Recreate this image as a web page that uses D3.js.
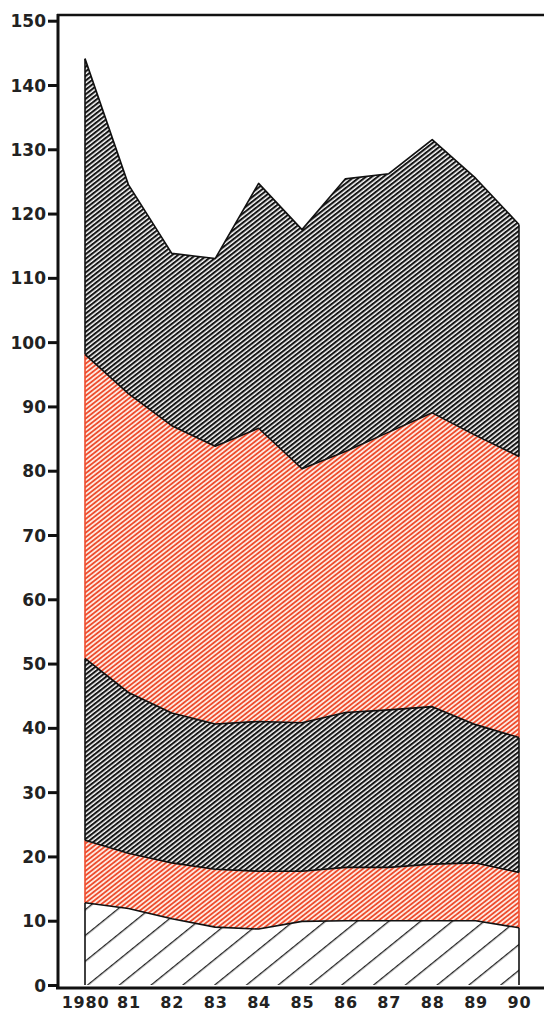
<!DOCTYPE html>
<html><head><meta charset="utf-8">
<script src="https://cdn.jsdelivr.net/npm/d3@7"></script>
<style>html,body{margin:0;padding:0;background:#fff;}svg{display:block;}</style>
</head><body>
<svg id="c" width="544" height="1014"></svg>
<script>
const years = [1980,1981,1982,1983,1984,1985,1986,1987,1988,1989,1990];
const yearLabels = ["1980","81","82","83","84","85","86","87","88","89","90"];
const yTicks = [0,10,20,30,40,50,60,70,80,90,100,110,120,130,140,150];
// layer values (bottom to top)
const layerA = [12.8,11.9,10.3,9.0,8.7,9.9,10.0,10.0,10.0,10.0,8.9];
const layerB = [9.7,8.6,8.7,9.0,9.0,7.8,8.3,8.3,8.8,9.0,8.6];
const layerC = [28.3,25.0,23.3,22.6,23.3,23.1,24.1,24.5,24.5,21.5,21.0];
const layerD = [47.3,46.5,44.7,43.2,45.6,39.5,40.6,43.2,45.7,45.0,43.7];
const layerE = [46.0,32.5,26.8,29.2,38.1,37.2,42.4,40.2,42.5,40.0,36.1];
const layerKeys = ["A","B","C","D","E"];
const layerStyle = ["sparse","red","black","red","black"];

const RED = "#ee4d2e";
const svg = d3.select("#c");
const x = d3.scaleLinear().domain([1980,1990]).range([85,519]);
const y = d3.scaleLinear().domain([0,150]).range([985,20.7]);

const table = years.map((yr,i)=>({year:yr,A:layerA[i],B:layerB[i],C:layerC[i],D:layerD[i],E:layerE[i]}));
const series = d3.stack().keys(layerKeys)(table);

const defs = svg.append("defs");
function hatch(id, period, lineW, color, angle, bg){
  const p = defs.append("pattern").attr("id",id).attr("patternUnits","userSpaceOnUse")
    .attr("width",10).attr("height",period).attr("patternTransform",`rotate(${angle})`);
  p.append("rect").attr("width",10).attr("height",period).attr("fill",bg);
  p.append("rect").attr("y",0).attr("width",10).attr("height",lineW).attr("fill",color);
}
hatch("sparse", 20, 1.3, "#222", -39, "#fff");
hatch("red", 3.6, 1.8, RED, -38, "#fde8e0");
hatch("black", 3.6, 2.1, "#161616", -38, "#fff");

const area = d3.area().x((d,i)=>x(years[i])).y0(d=>y(d[0])).y1(d=>y(d[1]));
const topLine = d3.line().x((d,i)=>x(years[i])).y(d=>y(d[1]));

svg.append("g").selectAll("path").data(series).join("path")
  .attr("d",area).attr("fill",(d,i)=>`url(#${layerStyle[i]})`);

// vertical edges
series.forEach((s,i)=>{
  const col = layerStyle[i]==="red" ? RED : "#111";
  [0, years.length-1].forEach(j=>{
    svg.append("line").attr("x1",x(years[j])).attr("x2",x(years[j]))
      .attr("y1",y(s[j][0])).attr("y2",y(s[j][1]))
      .attr("stroke",col).attr("stroke-width",1.6);
  });
});
// boundary lines
svg.append("g").selectAll("path").data(series).join("path")
  .attr("d",topLine).attr("fill","none").attr("stroke","#111").attr("stroke-width",1.6)
  .attr("stroke-linejoin","round");

// frame
svg.append("line").attr("x1",57).attr("x2",560).attr("y1",15).attr("y2",15).attr("stroke","#111").attr("stroke-width",2.5);
svg.append("line").attr("x1",56).attr("x2",560).attr("y1",988).attr("y2",988).attr("stroke","#111").attr("stroke-width",3);

// y axis
const yAxis = d3.axisLeft(y).tickValues(yTicks).tickSize(10).tickPadding(3).tickFormat(d3.format("d"));
const ga = svg.append("g").attr("transform","translate(58,0)").call(yAxis);
ga.select(".domain").remove();
ga.append("line").attr("x1",0).attr("x2",0).attr("y1",14).attr("y2",989).attr("stroke","#111").attr("stroke-width",3);
ga.selectAll(".tick line").attr("stroke","#111").attr("stroke-width",3);
ga.selectAll(".tick text").attr("fill","#222").attr("font-family","DejaVu Sans").attr("font-weight","bold")
  .attr("font-size",17).attr("dy","0.36em").attr("x",-12);

// x labels
const xAxis = d3.axisBottom(x).tickValues(years).tickSize(0).tickPadding(0).tickFormat((d,i)=>yearLabels[i]);
const gx = svg.append("g").attr("transform","translate(0,997)").call(xAxis);
gx.select(".domain").remove();
gx.selectAll(".tick text").attr("fill","#222").attr("font-family","DejaVu Sans").attr("font-weight","bold")
  .attr("font-size",16).attr("letter-spacing","0.8").attr("dy","0.7em");
</script>
</body></html>
